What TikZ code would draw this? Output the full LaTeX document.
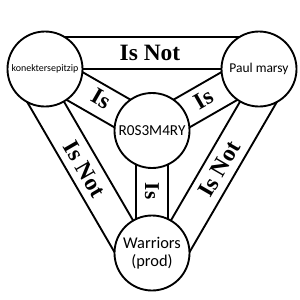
\documentclass[tikz,border=0pt]{standalone}
\usepackage{fontspec}
\setmainfont{Liberation Serif}
\newfontfamily\cf{Carlito}
\usetikzlibrary{calc}
\tikzset{
  band/.style={draw=black, line width=1.6pt, fill=white, line join=miter},
  circ/.style={circle, draw=black, line width=1.6pt, fill=white, minimum size=2.25cm, inner sep=0pt, align=center, font=\cf},
  lab/.style={font=\fontsize{20}{22}\selectfont\bfseries, inner sep=0pt}
}
\begin{document}
\begin{tikzpicture}[x=0.03cm, y=-0.03cm]
\useasboundingbox[fill=white] (0,0) rectangle (300,300);
\coordinate (TL) at (45,69);
\coordinate (TR) at (259,69);
\coordinate (C) at (152,130.5);
\coordinate (B) at (152,253);
% outer bands
\draw[band] (TL) -- (TR) -- ($(TR)!0.96cm!-90:(TL)$) -- ($(TL)!0.96cm!90:(TR)$) -- cycle;
\draw[band] (TL) -- (B) -- ($(B)!0.96cm!90:(TL)$) -- ($(TL)!0.96cm!-90:(B)$) -- cycle;
\draw[band] (TR) -- (B) -- ($(B)!0.96cm!-90:(TR)$) -- ($(TR)!0.96cm!90:(B)$) -- cycle;
% inner bands
\draw[band] ($(TL)!0.48cm!90:(C)$) -- ($(C)!0.48cm!-90:(TL)$) -- ($(C)!0.48cm!90:(TL)$) -- ($(TL)!0.48cm!-90:(C)$) -- cycle;
\draw[band] ($(TR)!0.48cm!90:(C)$) -- ($(C)!0.48cm!-90:(TR)$) -- ($(C)!0.48cm!90:(TR)$) -- ($(TR)!0.48cm!-90:(C)$) -- cycle;
\draw[band] ($(C)!0.48cm!90:(B)$) -- ($(B)!0.48cm!-90:(C)$) -- ($(B)!0.48cm!90:(C)$) -- ($(C)!0.48cm!-90:(B)$) -- cycle;
% circles
\node[circ, font=\cf\fontsize{8.5}{10}\selectfont] (tl) at (TL) {konektersepitzip};
\node[circ, font=\cf\fontsize{11.5}{13}\selectfont] (tr) at (TR) {Paul marsy};
\node[circ, font=\cf\fontsize{13}{15}\selectfont] (c) at (C) {R0S3M4RY};
\node[circ, font=\cf\fontsize{14}{15}\selectfont] (b) at (B) {Warriors\\(prod)};
% labels
\node[lab] (l1) at (150,53) {Is Not};
\node[lab, rotate=-60] (l2) at (84.5,169) {Is Not};
\node[lab, rotate=60] (l3) at (219.5,169) {Is Not};
\node[lab, rotate=-30] (l4) at (101,99) {Is};
\node[lab, rotate=30] (l5) at (204,99) {Is};
\node[lab, rotate=-90, font=\fontsize{18}{20}\selectfont\bfseries] (l6) at (152,191) {Is};
\end{tikzpicture}
\end{document}
